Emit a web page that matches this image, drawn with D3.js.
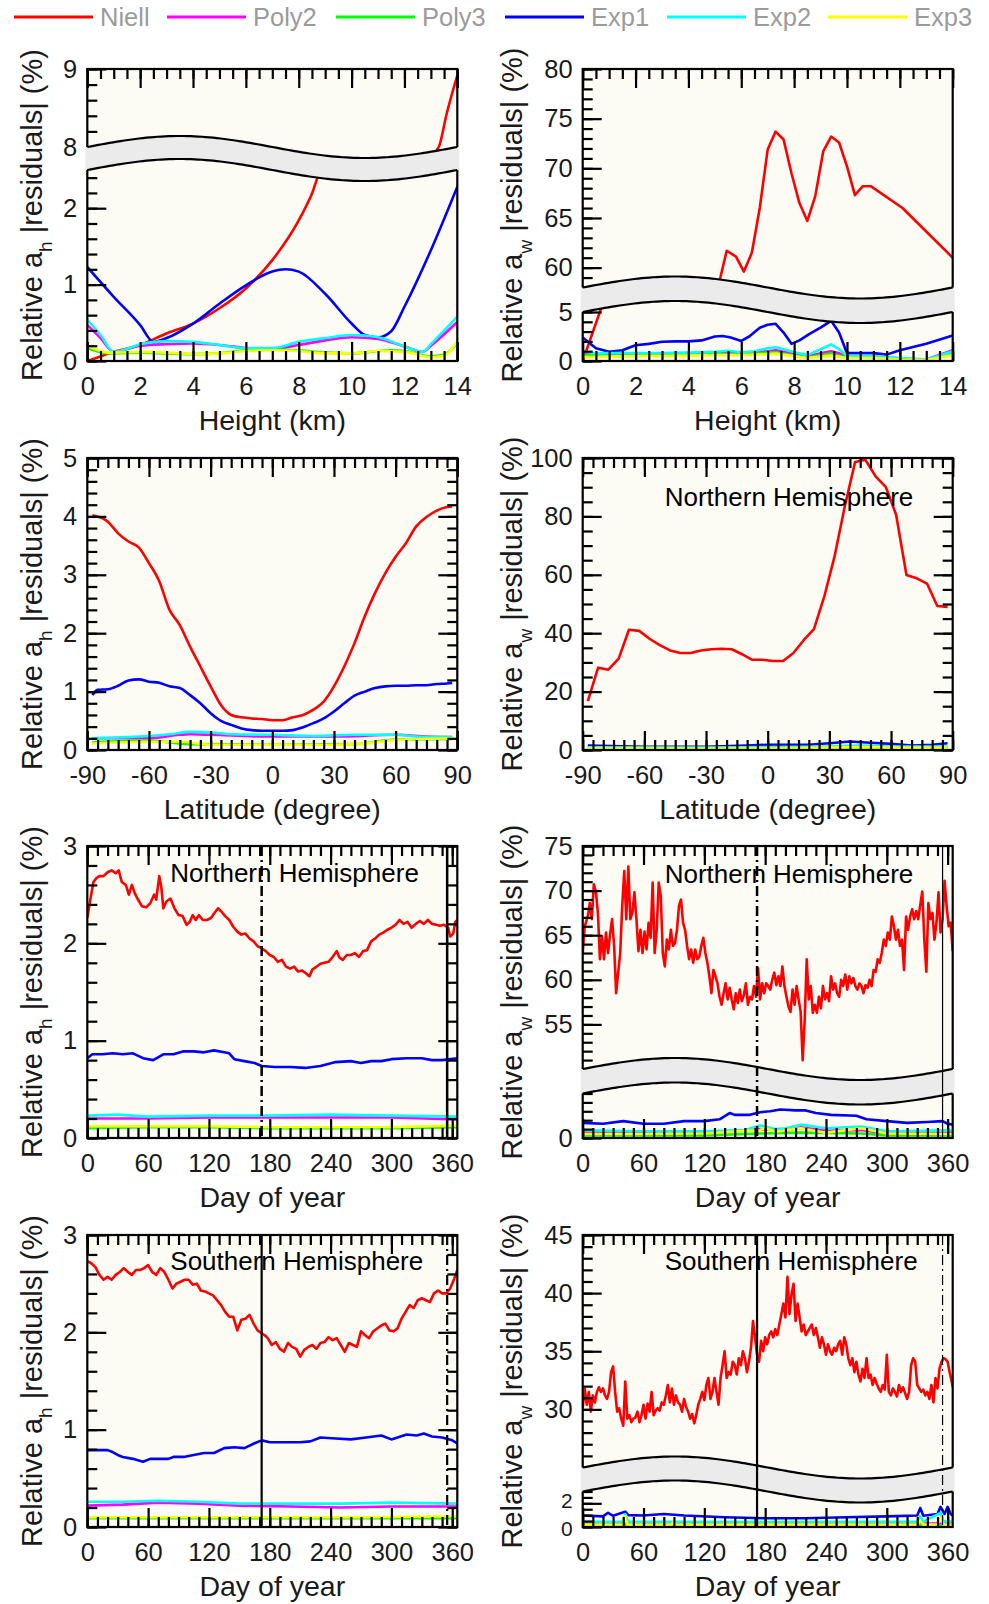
<!DOCTYPE html>
<html>
<head>
<meta charset="utf-8">
<script src="https://cdn.jsdelivr.net/npm/d3@7"></script>
<style>
  body { margin: 0; background: #fff; }
  text { font-family: "Liberation Sans", Arial, sans-serif; }
</style>
</head>
<body>
<div id="chart"></div>
<script>
// ---------------- data ----------------
var seriesNames = ["Niell", "Poly2", "Poly3", "Exp1", "Exp2", "Exp3"];
var seriesColors = ["#ff0000", "#ff00ff", "#00ff00", "#0000ff", "#00ffff", "#ffff00"];

// (a) height vs relative a_h residuals
var hAhNiell = [[0,0],[0.5,0.06],[1,0.12],[2,0.21],[3,0.36],[4,0.49],[5,0.69],[6,0.95],[7,1.32],[8,1.84],[8.5,2.19],[8.8,2.45],[9.5,2.7],[10.5,3.1],[11.5,3.6],[12.5,4.5],[13.0,6.0],[13.3,8.0],[13.6,8.43],[14,8.92]];
var hAhPoly2 = [[0,0.47],[0.5,0.3],[1,0.12],[2,0.2],[3,0.22],[4,0.23],[5,0.21],[6,0.17],[7,0.16],[8,0.21],[9,0.27],[10,0.31],[11,0.29],[12,0.19],[12.7,0.12],[13,0.2],[14,0.51]];
var hAhPoly3 = [[0,0.17],[0.8,0.1],[2,0.11],[4,0.09],[5,0.1],[6,0.14],[7,0.15],[8,0.14],[9,0.11],[10,0.1],[11,0.13],[11.5,0.14],[12,0.13],[13,0.06],[13.5,0.08],[14,0.24]];
var hAhExp1 = [[0,1.23],[1,0.84],[2,0.47],[2.5,0.25],[3,0.3],[4,0.49],[5,0.75],[6,0.99],[7,1.17],[7.5,1.2],[8,1.17],[9,0.88],[10,0.49],[10.5,0.34],[11,0.31],[11.5,0.39],[12,0.71],[13,1.45],[14,2.28]];
var hAhExp2 = [[0,0.54],[0.5,0.34],[1,0.12],[1.5,0.16],[2,0.22],[3,0.26],[4,0.25],[5,0.21],[6,0.17],[7,0.17],[8,0.25],[9,0.3],[10,0.34],[11,0.31],[12,0.19],[12.7,0.12],[13,0.22],[14,0.58]];
var hAhExp3 = [[0,0.2],[0.8,0.11],[2,0.12],[3,0.11],[4,0.09],[5,0.1],[6,0.13],[7,0.14],[8,0.13],[9,0.1],[10,0.1],[11,0.13],[12,0.12],[13,0.05],[13.5,0.07],[14,0.26]];

// (b) height vs relative a_w residuals
var hAwNiell = [[0,0],[0.65,5.0],[0.8,30],[3,35],[5,45],[5.2,58.9],[5.45,61.7],[5.8,61.1],[6.1,59.6],[6.4,61.5],[6.7,66],[7.0,71.9],[7.3,73.7],[7.6,72.9],[7.9,69.5],[8.2,66.5],[8.5,64.7],[8.8,67.2],[9.1,71.7],[9.4,73.2],[9.7,72.6],[10.0,70.2],[10.3,67.3],[10.6,68.2],[10.9,68.2],[12.1,66],[14,61]];
var hAwPoly2 = [[0,0.8],[1,0.6],[2,0.65],[3,0.65],[4,0.7],[5,0.85],[5.5,0.95],[6,0.8],[6.5,0.85],[7,1.0],[7.3,1.1],[7.6,0.95],[8,0.7],[8.5,0.45],[9,0.8],[9.4,1.0],[9.7,0.8],[10,0.4],[11,0.4],[12,0.25],[13,0.15],[14,1.1]];
var hAwPoly3 = [[0,0.6],[1,0.5],[2,0.55],[3,0.55],[4,0.6],[5,0.7],[6,0.65],[7,0.85],[7.3,0.9],[8,0.55],[8.5,0.35],[9,0.6],[9.4,0.75],[10,0.35],[11,0.35],[12,0.2],[13,0.1],[14,0.8]];
var hAwExp1 = [[0,2.4],[0.5,1.3],[1,0.95],[1.5,1.1],[2,1.6],[2.5,1.75],[3,1.97],[3.5,2.0],[4,2.0],[4.5,2.1],[5,2.5],[5.3,2.55],[5.6,2.4],[6.0,2.05],[6.3,2.5],[6.7,3.4],[7.0,3.7],[7.3,3.8],[7.6,2.9],[7.9,1.75],[8.2,2.1],[8.6,2.8],[9.0,3.4],[9.4,4.1],[9.7,2.9],[10.0,0.8],[10.5,0.8],[11,0.8],[11.5,0.65],[12,1.1],[13,1.75],[14,2.6]];
var hAwExp2 = [[0,1.0],[0.5,0.75],[1,0.8],[2,0.8],[3,0.8],[4,0.85],[5,0.95],[5.5,1.05],[6,0.9],[6.5,1.0],[7,1.3],[7.3,1.4],[7.6,1.2],[8,0.9],[8.5,0.6],[9,1.2],[9.4,1.7],[9.7,1.2],[10,0.5],[11,0.5],[12,0.3],[13,0.15],[14,1.0]];
var hAwExp3 = [[0,0.4],[1,0.45],[2,0.5],[3,0.5],[4,0.55],[5,0.6],[6,0.6],[7,0.7],[7.3,0.75],[8,0.5],[8.5,0.3],[9,0.45],[9.4,0.55],[10,0.3],[11,0.3],[12,0.15],[13,0.1],[14,0.6]];

// (c) latitude vs relative a_h residuals
var latAhNiell = [[-87.5,4.02],[-80,3.91],[-75,3.71],[-70,3.57],[-65,3.47],[-60,3.2],[-55,2.89],[-50,2.4],[-45,2.14],[-40,1.77],[-35,1.43],[-30,1.09],[-25,0.77],[-20,0.6],[-15,0.56],[-10,0.54],[-5,0.53],[0,0.51],[5,0.51],[10,0.56],[15,0.6],[20,0.69],[25,0.83],[30,1.09],[35,1.43],[40,1.83],[45,2.29],[50,2.69],[55,3.03],[60,3.31],[65,3.54],[70,3.83],[75,3.99],[80,4.1],[85,4.16],[87.5,4.17]];
var latAhPoly2 = [[-87.5,0.2],[-60,0.2],[-45,0.26],[-40,0.27],[-30,0.26],[0,0.23],[30,0.23],[60,0.26],[75,0.23],[87.5,0.22]];
var latAhPoly3 = [[-87.5,0.13],[-60,0.16],[-40,0.1],[0,0.09],[40,0.1],[60,0.18],[87.5,0.19]];
var latAhExp1 = [[-87.5,0.94],[-85,1.03],[-80,1.04],[-75,1.1],[-70,1.19],[-65,1.21],[-60,1.17],[-55,1.15],[-50,1.09],[-45,1.06],[-40,0.94],[-35,0.8],[-30,0.63],[-25,0.5],[-20,0.43],[-15,0.37],[-10,0.34],[-5,0.33],[0,0.33],[5,0.33],[10,0.34],[15,0.39],[20,0.46],[25,0.54],[30,0.66],[35,0.8],[40,0.93],[45,1.0],[50,1.06],[55,1.09],[60,1.1],[65,1.1],[70,1.11],[75,1.11],[80,1.13],[85,1.14],[87.5,1.15]];
var latAhExp2 = [[-87.5,0.2],[-70,0.22],[-60,0.24],[-50,0.27],[-40,0.31],[-30,0.3],[-20,0.27],[0,0.26],[20,0.24],[40,0.26],[60,0.26],[75,0.22],[87.5,0.22]];
var latAhExp3 = [[-87.5,0.11],[-60,0.14],[-45,0.14],[-30,0.09],[0,0.09],[30,0.09],[45,0.11],[60,0.17],[87.5,0.2]];

// (d) latitude vs relative a_w residuals
var latAwNiell = [[-87.5,16.7],[-82.5,28.2],[-77.5,27.5],[-72.5,31.3],[-67.5,41.2],[-62.5,40.8],[-57.5,38.1],[-52.5,35.9],[-47.5,34.1],[-42.5,33.2],[-37.5,33.2],[-32.5,34.1],[-27.5,34.5],[-22.5,34.7],[-17.5,34.5],[-12.5,32.8],[-7.5,30.9],[-2.5,30.9],[2.5,30.5],[7.5,30.5],[12.5,33.2],[17.5,37.6],[22.5,41.4],[27.5,52.5],[32.5,66.2],[37.5,83.4],[42.5,98.6],[47.5,99.4],[52.5,93.7],[57.5,90],[62.5,80.5],[67.5,59.9],[72.5,58.8],[77.5,57.0],[82.5,49.3],[87.5,49.0]];
var latAwPoly2 = [[-87.5,0.6],[-30,0.6],[0,0.7],[30,0.9],[45,1.1],[60,0.9],[87.5,0.9]];
var latAwPoly3 = [[-87.5,0.3],[-30,0.3],[0,0.3],[40,0.5],[60,0.4],[87.5,0.4]];
var latAwExp1 = [[-87.5,1.5],[-60,1.1],[-30,1.1],[-10,1.5],[0,1.8],[20,1.8],[30,2.3],[40,2.9],[50,2.5],[60,2.1],[70,1.5],[80,1.8],[87.5,2.3]];
var latAwExp2 = [[-87.5,0.9],[-30,0.8],[0,1.0],[30,1.2],[45,1.5],[60,1.2],[87.5,1.2]];
var latAwExp3 = [[-87.5,0.6],[-30,0.5],[0,0.6],[30,0.8],[45,1.0],[60,0.8],[87.5,0.8]];

// (e) day of year, Northern Hemisphere, a_h
var nhAhNiell = [[0,2.26],[3,2.45],[6,2.63],[9,2.67],[12,2.69],[16,2.69],[20,2.73],[24,2.75],[28,2.72],[31,2.75],[34,2.63],[38,2.6],[41,2.5],[44,2.6],[47,2.51],[50,2.45],[54,2.38],[58,2.37],[62,2.41],[66,2.5],[68,2.45],[71,2.69],[73,2.58],[75,2.36],[78,2.43],[82,2.46],[86,2.36],[90,2.29],[94,2.28],[98,2.19],[101,2.22],[104,2.29],[107,2.24],[110,2.29],[114,2.24],[118,2.24],[122,2.26],[126,2.32],[129,2.36],[132,2.33],[136,2.28],[140,2.24],[144,2.17],[148,2.12],[152,2.09],[156,2.1],[160,2.05],[164,2.02],[168,1.97],[172,1.95],[176,1.92],[180,1.88],[184,1.86],[188,1.81],[192,1.83],[196,1.76],[200,1.74],[204,1.76],[208,1.71],[212,1.72],[216,1.69],[219,1.66],[222,1.73],[226,1.76],[230,1.79],[234,1.8],[238,1.81],[242,1.86],[246,1.92],[249,1.85],[252,1.83],[256,1.88],[260,1.88],[264,1.9],[268,1.86],[272,1.92],[276,1.93],[280,2.02],[284,2.05],[288,2.09],[292,2.11],[296,2.14],[300,2.16],[304,2.19],[308,2.24],[312,2.2],[316,2.22],[320,2.16],[324,2.2],[328,2.23],[332,2.2],[336,2.24],[340,2.2],[344,2.19],[348,2.18],[352,2.19],[356,2.16],[358,2.07],[361,2.1],[363,2.22],[365,2.24]];
var nhAhPoly2 = [[0,0.2],[30,0.2],[60,0.2],[120,0.21],[180,0.21],[240,0.21],[300,0.21],[365,0.19]];
var nhAhPoly3 = [[0,0.1],[60,0.11],[120,0.11],[180,0.1],[240,0.1],[300,0.1],[365,0.11]];
var nhAhExp1 = [[0,0.82],[5,0.86],[15,0.86],[25,0.87],[35,0.86],[45,0.87],[55,0.82],[65,0.8],[75,0.86],[85,0.86],[95,0.89],[105,0.89],[115,0.88],[125,0.9],[135,0.88],[140,0.87],[145,0.81],[155,0.79],[165,0.77],[172,0.74],[185,0.73],[200,0.73],[215,0.72],[230,0.74],[245,0.78],[260,0.79],[270,0.77],[280,0.79],[290,0.79],[300,0.81],[315,0.82],[330,0.82],[340,0.8],[350,0.8],[365,0.82]];
var nhAhExp2 = [[0,0.23],[30,0.24],[60,0.22],[120,0.23],[180,0.23],[240,0.24],[300,0.23],[365,0.22]];
var nhAhExp3 = [[0,0.12],[60,0.12],[120,0.12],[180,0.11],[240,0.11],[300,0.11],[365,0.13]];

// (f) day of year, Northern Hemisphere, a_w
var nhAwNiell = [[0,63],[2,66],[5,67.1],[7,68.6],[9,66.8],[11,70.7],[13,69.9],[15,67.5],[17,62.3],[19,64.9],[21,62.3],[23,65.3],[25,63],[27,65.1],[29,66.8],[31,63.8],[33,58.5],[35,60.8],[37,63],[39,68.3],[41,72.2],[43,66.8],[45,72.7],[47,66.8],[49,67.5],[51,69.8],[53,66.8],[55,63.2],[57,65.6],[59,63],[61,65.4],[63,63.4],[65,66.4],[67,64.7],[69,70.9],[71,63],[73,65.6],[75,70.9],[77,69.4],[79,63],[81,61.5],[83,64.5],[85,63.4],[87,65.6],[89,63.8],[91,64.1],[93,65.6],[95,68.3],[97,69],[99,66.4],[101,65.6],[103,63.8],[105,62.3],[107,63.4],[109,61.9],[111,63.4],[113,62.3],[115,62.6],[117,63.8],[119,64.7],[121,63],[123,61.9],[125,60.4],[127,58.5],[129,61.1],[131,60.4],[133,59.6],[135,58.1],[137,57.2],[139,58.5],[141,59.6],[143,57.8],[145,59.1],[147,57.8],[149,56.7],[151,58.5],[153,57.4],[155,58.9],[157,57.6],[159,58.3],[161,59.6],[163,57.2],[165,58.1],[167,57.8],[169,59.3],[171,58.1],[173,61.3],[175,57.8],[177,59.6],[179,58.5],[181,59.6],[183,59.3],[185,58.9],[187,60],[189,60.8],[191,59.4],[193,60.4],[195,59.3],[197,61.5],[199,59.3],[201,58.1],[203,57],[205,56.4],[207,58.9],[209,57.2],[211,59.3],[213,57.8],[215,56.4],[217,51],[219,55.5],[221,62.3],[223,57.8],[225,59.3],[227,56.3],[229,57.2],[231,56.3],[233,58.1],[235,56.8],[237,59.3],[239,57.8],[241,58.5],[243,57.6],[245,60.4],[247,58.9],[249,59.6],[251,58.5],[253,58.1],[255,60],[257,59.3],[259,60.6],[261,58.9],[263,60.4],[265,59.6],[267,60.2],[269,59.3],[271,58.9],[273,59.6],[275,59.3],[277,58.5],[279,59.4],[281,59.1],[283,60],[285,59.3],[287,61.1],[289,60.9],[291,62.3],[293,61.9],[295,63],[297,64.5],[299,63.8],[301,65.3],[303,64.5],[305,67.1],[307,66],[309,64.5],[311,65.6],[313,63.8],[315,64.5],[317,61.1],[319,67.1],[321,65.6],[323,67.1],[325,67.9],[327,66.8],[329,67.7],[331,66.8],[333,68.4],[335,69.9],[337,64.5],[339,60.9],[341,68.6],[343,66.8],[345,67.5],[347,64.5],[349,66.4],[351,69.8],[353,65.3],[355,66.8],[357,71.1],[359,68.3],[361,66],[363,66.4],[365,63.2]];
var nhAwPoly2 = [[0,0.6],[60,0.55],[120,0.55],[175,1.0],[200,0.8],[215,1.2],[240,0.8],[275,0.9],[300,0.5],[365,0.55]];
var nhAwPoly3 = [[0,0.3],[60,0.3],[120,0.3],[175,0.5],[215,0.6],[275,0.5],[300,0.3],[365,0.3]];
var nhAwExp1 = [[0,1.7],[20,1.6],[40,1.9],[60,1.6],[80,1.6],[100,1.9],[120,1.9],[135,2.1],[145,2.8],[150,2.6],[165,2.6],[175,2.9],[185,3.0],[195,3.2],[210,3.1],[220,3.1],[230,2.8],[245,2.6],[270,2.5],[280,2.1],[300,1.9],[320,1.7],[340,1.8],[355,1.9],[360,1.6],[365,1.5]];
var nhAwExp2 = [[0,0.86],[60,0.75],[120,0.75],[160,0.9],[175,1.4],[190,1.0],[200,1.1],[215,1.5],[240,1.1],[275,1.3],[300,0.75],[360,0.86],[365,0.8]];
var nhAwExp3 = [[0,0.45],[60,0.45],[120,0.5],[175,0.9],[180,1.1],[190,0.7],[215,1.1],[240,0.6],[275,1.1],[300,0.5],[365,0.45]];

// (g) day of year, Southern Hemisphere, a_h
var shAhNiell = [[0,2.73],[4,2.71],[8,2.67],[12,2.59],[16,2.54],[20,2.57],[24,2.54],[28,2.59],[32,2.62],[36,2.66],[40,2.62],[44,2.59],[48,2.64],[52,2.64],[56,2.66],[60,2.69],[64,2.62],[68,2.59],[72,2.66],[76,2.62],[80,2.54],[84,2.45],[88,2.5],[92,2.52],[96,2.54],[100,2.54],[104,2.49],[108,2.5],[112,2.43],[116,2.42],[120,2.4],[124,2.38],[128,2.33],[132,2.28],[136,2.21],[140,2.16],[144,2.16],[148,2.02],[152,2.13],[156,2.14],[160,2.18],[164,2.09],[168,2.02],[172,1.99],[175,1.97],[178,1.94],[182,1.87],[186,1.9],[190,1.83],[194,1.8],[198,1.89],[202,1.85],[206,1.83],[210,1.75],[214,1.82],[218,1.85],[222,1.87],[226,1.83],[230,1.89],[234,1.9],[238,1.95],[242,1.92],[246,1.94],[250,1.87],[254,1.8],[258,1.89],[262,1.87],[266,1.85],[270,2.01],[274,1.97],[278,1.94],[282,2.01],[286,2.04],[290,2.07],[294,2.09],[298,2.02],[302,2.01],[306,2.04],[310,2.14],[314,2.21],[318,2.28],[322,2.25],[326,2.33],[330,2.35],[334,2.33],[338,2.31],[342,2.4],[346,2.43],[350,2.4],[354,2.4],[358,2.45],[362,2.55],[365,2.64]];
var shAhPoly2 = [[0,0.22],[35,0.23],[70,0.25],[110,0.24],[150,0.22],[200,0.21],[250,0.2],[300,0.21],[365,0.21]];
var shAhPoly3 = [[0,0.09],[180,0.09],[365,0.09]];
var shAhExp1 = [[0,0.79],[10,0.79],[20,0.79],[25,0.77],[30,0.74],[35,0.72],[45,0.7],[55,0.67],[62,0.7],[70,0.7],[80,0.7],[85,0.72],[95,0.72],[105,0.74],[115,0.76],[125,0.76],[135,0.81],[145,0.82],[155,0.81],[165,0.86],[172,0.89],[180,0.87],[195,0.87],[210,0.87],[220,0.88],[230,0.92],[245,0.91],[260,0.9],[275,0.92],[290,0.94],[300,0.9],[315,0.95],[325,0.94],[332,0.96],[340,0.93],[350,0.92],[360,0.89],[365,0.86]];
var shAhExp2 = [[0,0.26],[35,0.26],[70,0.27],[110,0.26],[150,0.24],[200,0.24],[250,0.24],[300,0.25],[365,0.24]];
var shAhExp3 = [[0,0.1],[90,0.1],[180,0.1],[270,0.1],[365,0.11]];

// (h) day of year, Southern Hemisphere, a_w
var shAwNiell = [[0,30.1],[2,31.8],[4,30.4],[6,31.5],[8,29.8],[10,31.2],[12,30.6],[14,31.5],[16,31.9],[18,31.5],[20,31.8],[22,31.2],[24,30.9],[26,31.5],[28,33.2],[30,33.7],[32,31.5],[34,29.8],[36,30.1],[38,29.2],[40,28.6],[42,32.4],[44,29.2],[46,29.5],[48,28.9],[50,29.2],[52,29.3],[54,29.8],[56,28.9],[58,29.5],[60,30.4],[62,29.2],[64,30.5],[66,29.8],[68,31.5],[70,29.5],[72,29.9],[74,30.1],[76,29.9],[78,30.6],[80,30.4],[82,31.2],[84,32.1],[86,30.6],[88,31.8],[90,30.4],[92,31.2],[94,30.6],[96,30.4],[98,29.8],[100,30.9],[102,30.2],[104,29.8],[106,29.2],[108,29.6],[110,28.8],[112,29.5],[114,30.4],[116,30.9],[118,31.5],[120,30.8],[122,32.1],[124,32.7],[126,30.9],[128,31.5],[130,32.7],[132,31.5],[134,30.4],[136,32.7],[138,33.8],[140,35],[142,32.7],[144,33.2],[146,33],[148,34.1],[150,33.8],[152,33],[154,34.4],[156,33.8],[158,35],[160,34.4],[162,33.2],[164,34.1],[166,35.3],[168,37.6],[170,36.2],[172,34.7],[174,34.1],[176,35.9],[178,35],[180,36.2],[182,35.6],[184,36.4],[186,36.7],[188,36.2],[190,36.9],[192,36.4],[194,37.3],[196,38.2],[198,39.1],[200,37.9],[202,41.4],[204,38.2],[206,39.9],[208,40.8],[210,37.6],[212,39.1],[214,37.9],[216,36.7],[218,37.3],[220,36.4],[222,36.7],[224,37],[226,37.3],[228,36.4],[230,37],[232,36.2],[234,35.3],[236,36.2],[238,35.6],[240,34.7],[242,35.6],[244,35],[246,34.7],[248,35.3],[250,35],[252,35.6],[254,35.9],[256,34.7],[258,36.2],[260,35.6],[262,34.4],[264,33.8],[266,34.4],[268,33.2],[270,34.1],[272,33],[274,32.4],[276,33.5],[278,32.7],[280,34.4],[282,32.7],[284,33],[286,32.1],[288,32.7],[290,32.2],[292,31.8],[294,31.5],[296,32.1],[298,31.7],[300,34.7],[302,31.5],[304,31.2],[306,31.8],[308,31.5],[310,31.1],[312,32.1],[314,31.5],[316,31.9],[318,31.4],[320,30.9],[322,31.5],[324,33.8],[326,34.4],[328,34.1],[330,32.1],[332,31.8],[334,31.5],[336,31.7],[338,31.2],[340,31.5],[342,30.9],[344,32.1],[346,30.6],[348,32.7],[350,31.8],[352,33.5],[354,34.1],[356,34.4],[358,34.3],[360,34.1],[362,33.2],[364,32.4],[365,31.9]];
var shAwPoly2 = [[0,0.3],[100,0.3],[200,0.28],[300,0.3],[365,0.3]];
var shAwPoly3 = [[0,0.15],[120,0.15],[240,0.15],[365,0.15]];
var shAwExp1 = [[0,0.97],[20,0.9],[25,1.2],[30,0.95],[42,1.3],[45,1.0],[60,0.97],[80,1.1],[100,0.97],[140,0.82],[180,0.74],[220,0.74],[260,0.82],[300,0.9],[330,0.97],[333,1.6],[336,0.95],[350,1.1],[353,1.7],[357,1.1],[360,1.7],[363,1.1],[365,0.97]];
var shAwExp2 = [[0,0.45],[40,0.45],[42,1.1],[45,0.45],[100,0.45],[200,0.42],[300,0.45],[330,0.45],[333,0.9],[336,0.45],[353,1.2],[356,0.5],[365,0.45]];
var shAwExp3 = [[0,0.2],[40,0.2],[42,0.9],[44,0.2],[88,0.2],[90,0.5],[92,0.2],[200,0.2],[330,0.2],[333,0.5],[336,0.2],[350,0.2],[353,0.8],[356,0.2],[365,0.2]];

// ---------------- chart ----------------
var svgWidth = 989, svgHeight = 1604;
var plotW = 370, plotH = 292;
var colLeft = [87.3, 582.7];
var rowTop = [69, 458, 846, 1235];

var svg = d3.select("#chart").append("svg")
  .attr("width", svgWidth)
  .attr("height", svgHeight);

// legend
var legendX = [14, 167, 336, 505, 667, 828];
seriesNames.forEach(function(name, i) {
  svg.append("line")
    .attr("x1", legendX[i]).attr("x2", legendX[i] + 79)
    .attr("y1", 17).attr("y2", 17)
    .attr("stroke", seriesColors[i]).attr("stroke-width", 3.2);
  svg.append("text")
    .attr("x", legendX[i] + 86).attr("y", 26)
    .attr("font-size", "25.5px").attr("fill", "#9b9b9b")
    .text(name);
});

var panels = [
  { col: 0, row: 0, xDomain: [0, 14], xMajor: d3.range(0, 15, 2), xMinor: d3.range(0, 14.01, 0.5),
    brk: { lower: [0, 2.5], upper: [8, 9], lowerPx: 191, gapPx: 23 },
    yMajor: [0, 1, 2, 8, 9], yMinor: d3.range(0, 2.51, 0.2).concat(d3.range(8, 9.01, 0.2)),
    series: [hAhNiell, hAhPoly2, hAhPoly3, hAhExp1, hAhExp2, hAhExp3],
    curve: d3.curveMonotoneX, sub: "h", xTitle: "Height (km)" },
  { col: 1, row: 0, xDomain: [0, 14], xMajor: d3.range(0, 15, 2), xMinor: d3.range(0, 14.01, 0.5),
    brk: { lower: [0, 5], upper: [58, 80], lowerPx: 49, gapPx: 24.5 },
    yMajor: [0, 5, 60, 65, 70, 75, 80], yMinor: d3.range(0, 5.01, 1).concat(d3.range(58, 80.01, 1)),
    series: [hAwNiell, hAwPoly2, hAwPoly3, hAwExp1, hAwExp2, hAwExp3],
    sub: "w", xTitle: "Height (km)" },
  { col: 0, row: 1, xDomain: [-90, 90], xMajor: d3.range(-90, 91, 30), xMinor: d3.range(-90, 91, 5),
    yDomain: [0, 5], yMajor: d3.range(0, 5.01, 1), yMinor: d3.range(0, 5.01, 0.2),
    series: [latAhNiell, latAhPoly2, latAhPoly3, latAhExp1, latAhExp2, latAhExp3],
    curve: d3.curveMonotoneX, sub: "h", xTitle: "Latitude (degree)" },
  { col: 1, row: 1, xDomain: [-90, 90], xMajor: d3.range(-90, 91, 30), xMinor: d3.range(-90, 91, 5),
    yDomain: [0, 100], yMajor: d3.range(0, 101, 20), yMinor: d3.range(0, 101, 5),
    series: [latAwNiell, latAwPoly2, latAwPoly3, latAwExp1, latAwExp2, latAwExp3],
    sub: "w", xTitle: "Latitude (degree)", note: { text: "Northern Hemisphere", x: 82, y: 48 } },
  { col: 0, row: 2, xDomain: [0, 365], xMajor: d3.range(0, 361, 60), xMinor: d3.range(0, 361, 10),
    yDomain: [0, 3], yMajor: d3.range(0, 3.01, 1), yMinor: d3.range(0, 3.01, 0.2),
    series: [nhAhNiell, nhAhPoly2, nhAhPoly3, nhAhExp1, nhAhExp2, nhAhExp3],
    sub: "h", xTitle: "Day of year", note: { text: "Northern Hemisphere", x: 83, y: 36 },
    vlines: [{ day: 172, dash: true, w: 2.5 }, { day: 355, dash: false, w: 2.5 }] },
  { col: 1, row: 2, xDomain: [0, 365], xMajor: d3.range(0, 361, 60), xMinor: d3.range(0, 361, 10),
    brk: { lower: [0, 5], upper: [50, 75], lowerPx: 44.5, gapPx: 24.5 },
    yMajor: [0, 55, 60, 65, 70, 75], yMinor: d3.range(0, 5.01, 1).concat(d3.range(50, 75.01, 1)),
    series: [nhAwNiell, nhAwPoly2, nhAwPoly3, nhAwExp1, nhAwExp2, nhAwExp3],
    sub: "w", xTitle: "Day of year", note: { text: "Northern Hemisphere", x: 82, y: 37 },
    vlines: [{ day: 172, dash: true, w: 2.5 }, { day: 355, dash: false, w: 1.2 }] },
  { col: 0, row: 3, xDomain: [0, 365], xMajor: d3.range(0, 361, 60), xMinor: d3.range(0, 361, 10),
    yDomain: [0, 3], yMajor: d3.range(0, 3.01, 1), yMinor: d3.range(0, 3.01, 0.2),
    series: [shAhNiell, shAhPoly2, shAhPoly3, shAhExp1, shAhExp2, shAhExp3],
    sub: "h", xTitle: "Day of year", note: { text: "Southern Hemisphere", x: 83, y: 35 },
    vlines: [{ day: 172, dash: false, w: 2.2 }, { day: 355, dash: true, w: 2.2 }] },
  { col: 1, row: 3, xDomain: [0, 365], xMajor: d3.range(0, 361, 60), xMinor: d3.range(0, 361, 10),
    brk: { lower: [0, 3], upper: [25, 45], lowerPx: 35.5, gapPx: 24 },
    yMajor: [0, 2, 30, 35, 40, 45], yMinor: d3.range(0, 3.01, 0.5).concat(d3.range(25, 45.01, 1)),
    smallLabels: [0, 2],
    series: [shAwNiell, shAwPoly2, shAwPoly3, shAwExp1, shAwExp2, shAwExp3],
    sub: "w", xTitle: "Day of year", note: { text: "Southern Hemisphere", x: 82, y: 35 },
    vlines: [{ day: 172, dash: false, w: 2.2 }, { day: 355, dash: true, w: 1.2 }] }
];

var majorLen = 19, minorLen = 10;

function styleAxis(sel) {
  sel.select(".domain").remove();
  sel.selectAll(".tick line").attr("stroke", "#000").attr("stroke-width", 2.2);
  sel.selectAll(".tick text").attr("font-size", "25.5px").attr("fill", "#1a1a1a")
    .attr("font-family", "'Liberation Sans', Arial, sans-serif");
}

panels.forEach(function(p, idx) {
  var left = colLeft[p.col], top = rowTop[p.row];
  var g = svg.append("g").attr("transform", `translate(${left}, ${top})`);

  var x = d3.scaleLinear().domain(p.xDomain).range([0, plotW]);
  var y;
  if (p.brk) {
    var b = p.brk;
    y = d3.scaleLinear()
      .domain([b.lower[0], b.lower[1], b.upper[0], b.upper[1]])
      .range([plotH, plotH - b.lowerPx, plotH - b.lowerPx - b.gapPx, 0]);
  } else {
    y = d3.scaleLinear().domain(p.yDomain).range([plotH, 0]);
  }

  // background
  g.append("rect").attr("width", plotW).attr("height", plotH).attr("fill", "#fcfbf4");

  // data lines
  var clipId = "clip" + idx;
  g.append("clipPath").attr("id", clipId)
    .append("rect").attr("width", plotW).attr("height", plotH);
  var line = d3.line()
    .x(d => x(d[0]))
    .y(d => y(d[1]))
    .curve(p.curve || d3.curveLinear);
  var lineGroup = g.append("g").attr("clip-path", `url(#${clipId})`);
  p.series.forEach(function(s, i) {
    lineGroup.append("path")
      .datum(s)
      .attr("d", line)
      .attr("fill", "none")
      .attr("stroke", seriesColors[i])
      .attr("stroke-width", 2.6)
      .attr("stroke-linejoin", "round");
  });

  // ticks (all inward)
  g.append("g").attr("transform", `translate(0, ${plotH})`)
    .call(d3.axisBottom(x).tickValues(p.xMinor).tickSize(-minorLen).tickFormat(""))
    .call(styleAxis);
  g.append("g").attr("transform", `translate(0, ${plotH})`)
    .call(d3.axisBottom(x).tickValues(p.xMajor).tickSize(-majorLen).tickPadding(15.5).tickFormat(d => String(d)))
    .call(styleAxis);
  g.append("g")
    .call(d3.axisTop(x).tickValues(p.xMinor).tickSize(-minorLen).tickFormat(""))
    .call(styleAxis);
  g.append("g")
    .call(d3.axisTop(x).tickValues(p.xMajor).tickSize(-majorLen).tickFormat(""))
    .call(styleAxis);
  g.append("g")
    .call(d3.axisLeft(y).tickValues(p.yMinor).tickSize(-minorLen).tickFormat(""))
    .call(styleAxis);
  var yAxisG = g.append("g")
    .call(d3.axisLeft(y).tickValues(p.yMajor).tickSize(-majorLen).tickPadding(10).tickFormat(d => String(d)))
    .call(styleAxis);
  if (p.smallLabels) {
    // the two labels of the short lower segment sit very close together
    yAxisG.selectAll(".tick text")
      .filter(d => p.smallLabels.indexOf(d) >= 0)
      .attr("font-size", "21px")
      .attr("dy", d => d === 0 ? "0.4em" : "0.22em");
  }
  if (!p.brk) {
    g.append("g").attr("transform", `translate(${plotW}, 0)`)
      .call(d3.axisRight(y).tickValues(p.yMinor).tickSize(-minorLen).tickFormat(""))
      .call(styleAxis);
    g.append("g").attr("transform", `translate(${plotW}, 0)`)
      .call(d3.axisRight(y).tickValues(p.yMajor).tickSize(-majorLen).tickFormat(""))
      .call(styleAxis);
  }

  // frame
  g.append("rect").attr("width", plotW).attr("height", plotH)
    .attr("fill", "none").attr("stroke", "#000").attr("stroke-width", 2.2);

  // wavy axis-break band
  if (p.brk) {
    var gapTop = plotH - p.brk.lowerPx - p.brk.gapPx;
    var gapBot = plotH - p.brk.lowerPx;
    var amp = 11;
    var ts = d3.range(0, 1.0001, 0.01);
    var topEdge = ts.map(t => [t * plotW, gapTop - amp * Math.sin(2 * Math.PI * t)]);
    var botEdge = ts.map(t => [t * plotW, gapBot - amp * Math.sin(2 * Math.PI * t)]);
    var fillPts = [[-2, gapTop]].concat(topEdge, [[plotW + 2, gapTop], [plotW + 2, gapBot]],
      botEdge.slice().reverse(), [[-2, gapBot]]);
    g.append("path")
      .attr("d", d3.line()(fillPts) + "Z")
      .attr("fill", "#ebebeb");
    [topEdge, botEdge].forEach(function(edge) {
      g.append("path")
        .attr("d", d3.line()(edge))
        .attr("fill", "none")
        .attr("stroke", "#000")
        .attr("stroke-width", 2.2);
    });
  }

  // annotation
  if (p.note) {
    g.append("text")
      .attr("x", p.note.x).attr("y", p.note.y)
      .attr("font-size", "26px").attr("fill", "#000")
      .text(p.note.text);
  }

  // solstice lines
  if (p.vlines) {
    p.vlines.forEach(function(v) {
      g.append("line")
        .attr("x1", x(v.day)).attr("x2", x(v.day))
        .attr("y1", 0).attr("y2", plotH)
        .attr("stroke", "#000")
        .attr("stroke-width", v.w)
        .attr("stroke-dasharray", v.dash ? "10,4,2,4" : null);
    });
  }

  // x axis title
  g.append("text")
    .attr("x", plotW / 2).attr("y", plotH + 69)
    .attr("text-anchor", "middle")
    .attr("font-size", "28.5px").attr("fill", "#1a1a1a")
    .text(p.xTitle);

  // y axis title with subscript
  var titleX = (p.col === 0 ? 42 : 522) - left;
  var yt = g.append("text")
    .attr("transform", `translate(${titleX}, ${plotH / 2}) rotate(-90)`)
    .attr("text-anchor", "middle")
    .attr("font-size", "29px").attr("fill", "#1a1a1a");
  yt.append("tspan").text("Relative a");
  yt.append("tspan").attr("font-size", "19px").attr("dy", 10).text(p.sub);
  yt.append("tspan").attr("dy", -10).text(" |residuals| (%)");
});
</script>
</body>
</html>
